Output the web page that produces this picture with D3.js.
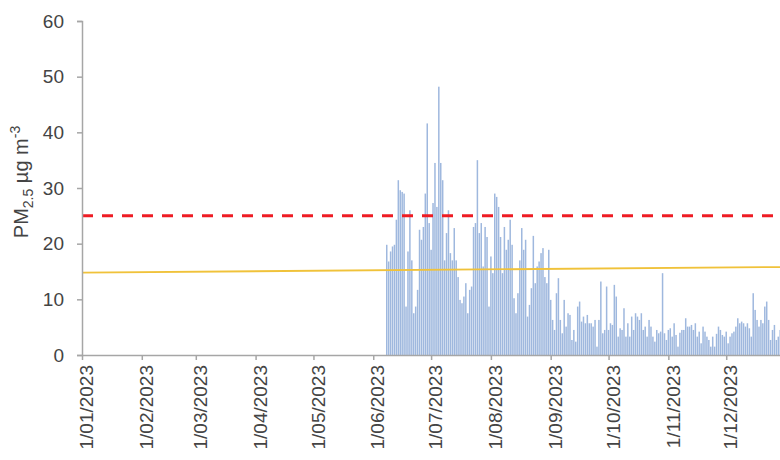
<!DOCTYPE html>
<html>
<head>
<meta charset="utf-8">
<script src="https://cdn.jsdelivr.net/npm/d3@7"></script>
<style>
body { margin: 0; background: #fff; }
text { font-family: "Liberation Sans", Arial, sans-serif; }
</style>
</head>
<body>
<div id="chart"></div>
<script>
// daily PM2.5 (ug/m3), first value is 8 June 2023, one value per day to 31 Dec
const firstDay = "2023-06-08";
const pm25 = [
  19.8, 16.8, 18.6, 19.5, 19.8, 24.3, 31.4, 29.6, 29.3, 29.0,
  8.7, 18.6, 26.0, 17.0, 7.5, 8.7, 11.7, 22.5, 20.7, 23.0,
  29.0, 41.6, 23.7, 18.9, 27.3, 34.5, 26.6, 48.2, 34.5, 31.4,
  17.0, 21.9, 26.0, 18.3, 17.0, 22.8, 17.0, 14.0, 9.9, 9.3,
  10.5, 12.9, 7.5, 11.7, 12.3, 23.0, 23.7, 35.0, 21.9, 23.7,
  15.9, 23.0, 21.2, 8.7, 17.7, 14.7, 29.0, 28.4, 26.6, 21.2,
  14.7, 23.0, 18.9, 20.7, 24.3, 19.8, 10.2, 7.5, 11.1, 17.0,
  22.8, 18.9, 20.7, 6.9, 9.0, 12.0, 21.4, 12.9, 15.9, 16.8,
  18.3, 19.2, 14.0, 12.9, 18.9, 9.9, 6.3, 4.5, 11.1, 13.8,
  6.3, 3.9, 9.9, 5.1, 7.5, 7.2, 2.7, 4.5, 2.4, 8.7,
  9.6, 6.0, 6.9, 5.7, 7.2, 5.7, 5.7, 5.1, 6.3, 1.5,
  6.3, 13.2, 3.9, 4.5, 12.3, 4.5, 5.7, 5.4, 12.6, 10.5,
  3.3, 4.8, 4.5, 8.4, 3.3, 5.7, 3.3, 6.9, 4.5, 7.5,
  6.9, 6.3, 7.5, 4.5, 5.1, 3.3, 6.3, 5.1, 3.3, 2.4,
  4.5, 3.9, 4.2, 14.7, 3.9, 2.7, 4.5, 4.8, 3.3, 5.7,
  3.6, 1.5, 4.0, 4.5, 4.5, 6.6, 5.1, 5.1, 5.4, 4.5,
  5.7, 3.3, 4.2, 2.1, 5.1, 4.2, 3.3, 2.7, 1.5, 3.3,
  1.5, 3.8, 5.1, 4.5, 3.6, 3.3, 4.2, 2.1, 3.3, 3.9,
  4.2, 5.1, 6.6, 5.7, 6.0, 5.7, 5.1, 5.7, 4.8, 3.3,
  11.1, 8.1, 6.3, 5.1, 6.3, 5.7, 8.7, 9.6, 6.3, 2.7,
  4.5, 5.4, 2.7, 3.3, 4.5, 6.0, 5.0
];
const monthTicks = [
  "2023-01-01", "2023-02-01", "2023-03-01", "2023-04-01", "2023-05-01", "2023-06-01",
  "2023-07-01", "2023-08-01", "2023-09-01", "2023-10-01", "2023-11-01", "2023-12-01"
];
const yTicks = [0, 10, 20, 30, 40, 50, 60];
const standardLine = 25;
const trendDates = ["2023-01-01", "2023-12-31"];
const trendValues = [14.8, 15.8];

const width = 780;
const height = 460;
const parse = d3.timeParse("%Y-%m-%d");
const start = parse(firstDay);
const daily = pm25.map((v, i) => ({ date: d3.timeDay.offset(start, i), value: v }));

const svg = d3.select("#chart")
  .append("svg")
  .attr("width", width)
  .attr("height", height);

const x = d3.scaleTime()
  .domain([parse("2023-01-01"), parse("2024-01-01")])
  .range([82, 786]);

const y = d3.scaleLinear()
  .domain([0, 60])
  .range([355, 21]);

// bars
svg.append("g")
  .selectAll("rect")
  .data(daily)
  .enter()
  .append("rect")
  .attr("x", (d) => x(d.date) - 0.75)
  .attr("width", 1.5)
  .attr("y", (d) => y(d.value))
  .attr("height", (d) => y(0) - y(d.value))
  .attr("fill", "#9fb8de");

// trend line
const trend = trendDates.map((d, i) => ({ date: parse(d), value: trendValues[i] }));
svg.append("path")
  .datum(trend)
  .attr("fill", "none")
  .attr("stroke", "#f0c23a")
  .attr("stroke-width", 1.8)
  .attr("d", d3.line().x((d) => x(d.date)).y((d) => y(d.value)));

// 25 ug/m3 guideline
svg.append("line")
  .attr("x1", x.range()[0])
  .attr("x2", x.range()[1])
  .attr("y1", y(standardLine))
  .attr("y2", y(standardLine))
  .attr("stroke", "#ee1c24")
  .attr("stroke-width", 3)
  .attr("stroke-dasharray", "11,9");

// axes
const yAxis = svg.append("g")
  .attr("transform", `translate(${x.range()[0]},0)`)
  .call(d3.axisLeft(y).tickValues(yTicks).tickSize(5).tickPadding(13));

const fmt = d3.timeFormat("%-d/%m/%Y");
const xAxis = svg.append("g")
  .attr("transform", `translate(0,${y(0)})`)
  .call(d3.axisBottom(x).tickValues(monthTicks.map(parse)).tickFormat(fmt).tickSize(5).tickSizeOuter(0));

[yAxis, xAxis].forEach((g) => {
  g.select(".domain").attr("stroke", "#a6a6a6").attr("stroke-width", 1.5);
  g.selectAll(".tick line").attr("stroke", "#a6a6a6").attr("stroke-width", 1.5);
  g.selectAll("text").attr("fill", "#444").style("font-size", "19px");
});

xAxis.selectAll("text")
  .attr("transform", "rotate(-90)")
  .attr("text-anchor", "end")
  .attr("x", -10)
  .attr("y", 4)
  .attr("dy", "0.35em");

// y title
const title = svg.append("text")
  .attr("transform", "translate(28,182) rotate(-90)")
  .attr("text-anchor", "middle")
  .attr("fill", "#444")
  .style("font-size", "20px");
title.append("tspan").text("PM");
title.append("tspan").attr("dy", 5).style("font-size", "14px").text("2.5");
title.append("tspan").attr("dy", -5).text(" µg m");
title.append("tspan").attr("dy", -8).style("font-size", "14px").text("-3");
</script>
</body>
</html>
